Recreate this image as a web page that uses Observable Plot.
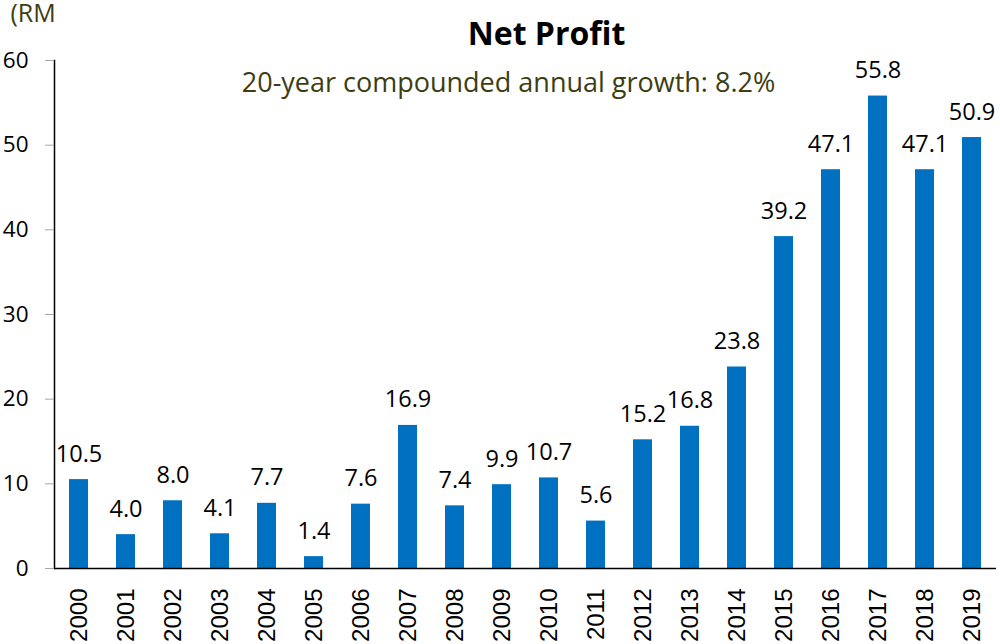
<!DOCTYPE html>
<html>
<head>
<meta charset="utf-8">
<script src="https://cdn.jsdelivr.net/npm/d3@7"></script>
<script src="https://cdn.jsdelivr.net/npm/@observablehq/plot@0.6"></script>
<style>
  html, body { margin: 0; padding: 0; background: #fff; }
</style>
</head>
<body>
<div id="chart"></div>
<script>
const years = ["2000","2001","2002","2003","2004","2005","2006","2007","2008","2009",
               "2010","2011","2012","2013","2014","2015","2016","2017","2018","2019"];
const netProfit = [10.5, 4.0, 8.0, 4.1, 7.7, 1.4, 7.6, 16.9, 7.4, 9.9,
                   10.7, 5.6, 15.2, 16.8, 23.8, 39.2, 47.1, 55.8, 47.1, 50.9];
const yTicks = [0, 10, 20, 30, 40, 50, 60];
const titleText = "Net Profit";
const subtitleText = "20-year compounded annual growth: 8.2%";
const unitText = "(RM";

const data = years.map((y, i) => ({year: y, value: netProfit[i]}));
const fmt = d3.format(".1f");
const olive = "#3d3d12";

const chart = Plot.plot({
  width: 1000,
  height: 644,
  marginTop: 60,
  marginBottom: 76,
  marginLeft: 54,
  marginRight: 4,
  style: {fontFamily: "'Open Sans', 'Noto Sans', sans-serif", fontSize: "22px", color: "#000", background: "#fff"},
  x: {type: "band", domain: years, paddingInner: 0.6, paddingOuter: 0.3},
  y: {domain: [0, 60]},
  marks: [
    Plot.barY(data, {x: "year", y: "value", fill: "#0070C0"}),
    Plot.text(data, {x: "year", y: "value", text: d => fmt(d.value), lineAnchor: "bottom", dy: -18, fontSize: 23.5, fill: "#000"}),
    Plot.ruleY([0], {stroke: "#000", strokeWidth: 1.5}),
    Plot.frame({anchor: "left", stroke: "#000", strokeWidth: 1.5}),
    Plot.axisY({ticks: yTicks, tickSize: 9, tickPadding: 17, stroke: "#a6a6a6", fill: "#000", fontSize: 22.5, label: null}),
    Plot.axisX({tickSize: 0, tickRotate: -90, tickPadding: 20, fontFamily: "'Liberation Sans', Arial, sans-serif", fontSize: 24, fill: "#000", label: null}),
    Plot.text([titleText], {frameAnchor: "top", dx: 21, dy: -16, lineAnchor: "bottom", fontSize: 32, fontWeight: "bold", fill: "#000"}),
    Plot.text([subtitleText], {frameAnchor: "top", dx: -17, dy: 31, lineAnchor: "bottom", fontSize: 27, fill: olive}),
    Plot.text([unitText], {frameAnchor: "top-left", dx: -44, dy: -39, lineAnchor: "bottom", textAnchor: "start", fontSize: 25, fill: olive})
  ]
});
document.getElementById("chart").appendChild(chart);
</script>
</body>
</html>
